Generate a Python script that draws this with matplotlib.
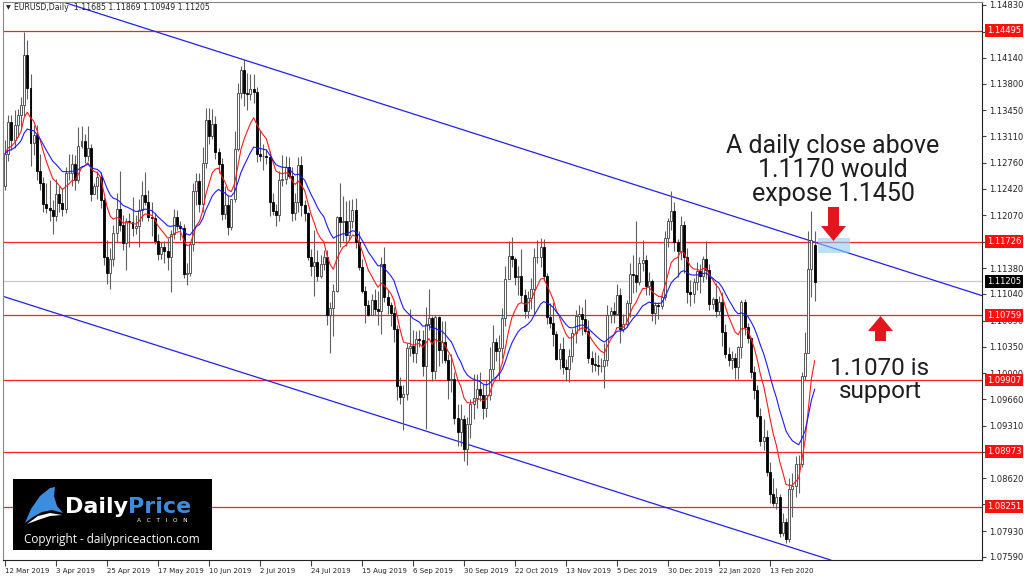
import numpy as np
import pandas as pd
import matplotlib.pyplot as plt
from matplotlib.patches import Polygon, Rectangle
from matplotlib.transforms import blended_transform_factory

# -----------------------------
# Data (prices in 1/10000)
# -----------------------------
opens = [
    11245, 11288, 11330, 11306, 11325, 11339, 11352, 11418, 11374, 11302, 11312, 11265, 11250, 11222, 11217, 11214,
    11206, 11235, 11223, 11216, 11262, 11263, 11274, 11254, 11298, 11305, 11285, 11295, 11235, 11245, 11258, 11227,
    11152, 11132, 11150, 11184, 11215, 11195, 11171, 11200, 11198, 11190, 11193, 11214, 11234, 11225, 11205, 11203,
    11174, 11157, 11165, 11160, 11152, 11183, 11205, 11193, 11190, 11130, 11131, 11169, 11239, 11252, 11222, 11276,
    11332, 11311, 11327, 11290, 11275, 11209, 11220, 11192, 11228, 11294, 11368, 11398, 11367, 11366, 11373, 11369,
    11287, 11285, 11285, 11283, 11225, 11213, 11208, 11253, 11255, 11270, 11259, 11210, 11224, 11273, 11220, 11210,
    11153, 11140, 11146, 11127, 11143, 11153, 11077, 11086, 11108, 11205, 11198, 11199, 11181, 11200, 11214, 11172,
    11139, 11108, 11090, 11077, 11096, 11084, 11081, 11143, 11100, 11089, 11079, 11058, 10983, 10969, 10973, 11033,
    11036, 11026, 11045, 11044, 11010, 11064, 11073, 11003, 11074, 11030, 11041, 11017, 10991, 10992, 10941, 10923,
    10940, 10900, 10933, 10960, 10967, 10979, 10971, 10955, 10972, 11006, 11041, 11029, 11033, 11073, 11124, 11154,
    11150, 11126, 11127, 11102, 11081, 11098, 11111, 11152, 11152, 11166, 11128, 11074, 11066, 11052, 11018, 11032,
    11008, 11006, 11022, 11053, 11075, 11078, 11071, 11056, 11020, 11012, 11011, 11009, 11009, 11017, 11077, 11082,
    11078, 11103, 11058, 11064, 11092, 11130, 11129, 11120, 11144, 11149, 11114, 11121, 11079, 11089, 11088, 11100,
    11177, 11199, 11213, 11172, 11160, 11195, 11152, 11106, 11104, 11120, 11134, 11127, 11150, 11136, 11091, 11097,
    11082, 11093, 11054, 11025, 11017, 11020, 11008, 11034, 11093, 11060, 11046, 11001, 10978, 10944, 10911, 10916,
    10871, 10841, 10830, 10837, 10791, 10805, 10782, 10848, 10852, 10881, 10881, 10996, 11026, 11137, 11168,
]
highs = [
    11306, 11339, 11339, 11345, 11346, 11362, 11448, 11437, 11392, 11325, 11326, 11288, 11258, 11250, 11254, 11227,
    11255, 11245, 11243, 11270, 11288, 11288, 11286, 11323, 11324, 11314, 11324, 11301, 11250, 11265, 11264, 11231,
    11175, 11164, 11195, 11237, 11265, 11207, 11204, 11210, 11231, 11207, 11228, 11252, 11264, 11240, 11225, 11210,
    11183, 11172, 11173, 11177, 11188, 11215, 11214, 11200, 11196, 11145, 11172, 11250, 11262, 11262, 11297, 11348,
    11348, 11346, 11337, 11296, 11282, 11245, 11234, 11229, 11318, 11381, 11403, 11412, 11394, 11392, 11393, 11375,
    11319, 11301, 11294, 11292, 11236, 11222, 11265, 11286, 11285, 11284, 11270, 11236, 11283, 11285, 11227, 11212,
    11163, 11188, 11162, 11155, 11162, 11162, 11094, 11117, 11206, 11250, 11232, 11226, 11227, 11229, 11230, 11187,
    11150, 11114, 11096, 11104, 11110, 11108, 11152, 11165, 11109, 11094, 11087, 11063, 10995, 10985, 11040, 11084,
    11057, 11056, 11057, 11057, 11087, 11110, 11075, 11076, 11075, 11069, 11069, 11025, 11025, 11001, 10960, 10960,
    10945, 10943, 10966, 10999, 10999, 11001, 10986, 10991, 11034, 11063, 11046, 11050, 11085, 11140, 11173, 11179,
    11153, 11140, 11163, 11110, 11108, 11125, 11164, 11175, 11178, 11176, 11132, 11092, 11093, 11055, 11040, 11047,
    11019, 11032, 11058, 11083, 11089, 11087, 11097, 11070, 11029, 11028, 11024, 11020, 11039, 11090, 11087, 11094,
    11117, 11112, 11078, 11096, 11145, 11155, 11200, 11152, 11175, 11155, 11133, 11124, 11094, 11093, 11103, 11187,
    11203, 11239, 11225, 11176, 11206, 11200, 11164, 11122, 11125, 11146, 11143, 11154, 11173, 11143, 11100, 11118,
    11101, 11107, 11064, 11034, 11029, 11026, 11036, 11096, 11097, 11066, 11048, 11010, 10984, 10954, 10940, 10925,
    10884, 10863, 10850, 10841, 10816, 10810, 10863, 10869, 10891, 10893, 11001, 11054, 11186, 11213, 11187,
]
lows = [
    11240, 11278, 11293, 11296, 11310, 11322, 11338, 11360, 11272, 11286, 11253, 11240, 11212, 11210, 11200, 11183,
    11200, 11212, 11206, 11210, 11254, 11246, 11240, 11250, 11295, 11276, 11278, 11226, 11235, 11228, 11217, 11142,
    11117, 11110, 11140, 11172, 11187, 11162, 11135, 11165, 11180, 11183, 11166, 11200, 11220, 11200, 11180, 11170,
    11148, 11150, 11145, 11136, 11107, 11176, 11188, 11175, 11125, 11116, 11128, 11160, 11221, 11211, 11212, 11269,
    11300, 11307, 11281, 11262, 11201, 11202, 11181, 11188, 11224, 11291, 11361, 11350, 11345, 11359, 11355, 11277,
    11278, 11266, 11275, 11206, 11207, 11193, 11200, 11245, 11248, 11256, 11200, 11201, 11212, 11206, 11200, 11149,
    11127, 11101, 11121, 11125, 11136, 11063, 11027, 11049, 11106, 11165, 11173, 11167, 11175, 11190, 11164, 11136,
    11105, 11066, 11075, 11076, 11077, 11063, 11051, 11093, 11078, 11062, 11041, 10965, 10960, 10926, 10965, 11023,
    11015, 11013, 11034, 10996, 10927, 11057, 10990, 10992, 11010, 11013, 11013, 10966, 10975, 10933, 10905, 10905,
    10885, 10879, 10915, 10940, 10954, 10964, 10940, 10943, 10965, 10995, 11016, 10991, 11020, 11062, 11124, 11139,
    11116, 11103, 11094, 11072, 11072, 11084, 11077, 11144, 11139, 11121, 11064, 11059, 11036, 11017, 11006, 10999,
    10990, 10989, 11015, 11040, 11057, 11050, 11053, 11014, 11001, 11003, 10997, 11002, 10981, 11010, 11066, 11066,
    11076, 11040, 11054, 11060, 11074, 11105, 11107, 11116, 11134, 11103, 11102, 11069, 11064, 11071, 11084, 11096,
    11166, 11188, 11160, 11126, 11148, 11132, 11092, 11088, 11092, 11109, 11105, 11119, 11124, 11083, 11084, 11074,
    11076, 11036, 11020, 11010, 11005, 10992, 10993, 11020, 11050, 11040, 10994, 10966, 10941, 10905, 10899, 10865,
    10830, 10826, 10822, 10785, 10786, 10777, 10779, 10812, 10838, 10843, 10877, 10991, 11026, 11100, 11095,
]
closes = [
    11288, 11330, 11306, 11325, 11339, 11352, 11418, 11374, 11302, 11312, 11265, 11250, 11222, 11217, 11214, 11206,
    11235, 11223, 11216, 11262, 11263, 11274, 11254, 11298, 11305, 11285, 11295, 11235, 11245, 11258, 11227, 11152,
    11132, 11150, 11184, 11215, 11195, 11171, 11200, 11198, 11190, 11193, 11214, 11234, 11225, 11205, 11203, 11174,
    11157, 11165, 11160, 11152, 11183, 11205, 11193, 11190, 11130, 11131, 11169, 11239, 11252, 11222, 11276, 11332,
    11311, 11327, 11290, 11275, 11209, 11220, 11192, 11228, 11294, 11368, 11398, 11367, 11366, 11373, 11369, 11287,
    11285, 11285, 11283, 11225, 11213, 11208, 11253, 11255, 11270, 11259, 11210, 11224, 11273, 11220, 11210, 11153,
    11140, 11146, 11127, 11143, 11153, 11077, 11086, 11108, 11205, 11198, 11199, 11181, 11200, 11214, 11172, 11139,
    11108, 11090, 11077, 11096, 11084, 11081, 11143, 11100, 11089, 11079, 11058, 10983, 10969, 10973, 11033, 11036,
    11026, 11045, 11044, 11010, 11064, 11073, 11003, 11074, 11030, 11041, 11017, 10991, 10992, 10941, 10923, 10940,
    10900, 10933, 10960, 10967, 10979, 10971, 10955, 10972, 11006, 11041, 11029, 11033, 11073, 11124, 11154, 11150,
    11126, 11127, 11102, 11081, 11098, 11111, 11152, 11152, 11166, 11128, 11074, 11066, 11052, 11018, 11032, 11008,
    11006, 11022, 11053, 11075, 11078, 11071, 11056, 11020, 11012, 11011, 11009, 11009, 11017, 11077, 11082, 11078,
    11103, 11058, 11064, 11092, 11130, 11129, 11120, 11144, 11149, 11114, 11121, 11079, 11089, 11088, 11100, 11177,
    11199, 11213, 11172, 11160, 11195, 11152, 11106, 11104, 11120, 11134, 11127, 11150, 11136, 11091, 11097, 11082,
    11093, 11054, 11025, 11017, 11020, 11008, 11034, 11093, 11060, 11046, 11001, 10978, 10944, 10911, 10916, 10871,
    10841, 10830, 10837, 10791, 10805, 10782, 10848, 10852, 10881, 10881, 10996, 11026, 11137, 11175, 11120,
]

date_labels = ["12 Mar 2019", "3 Apr 2019", "25 Apr 2019", "17 May 2019", "10 Jun 2019",
               "2 Jul 2019", "24 Jul 2019", "15 Aug 2019", "6 Sep 2019", "30 Sep 2019",
               "22 Oct 2019", "13 Nov 2019", "5 Dec 2019", "30 Dec 2019", "22 Jan 2020",
               "13 Feb 2020"]
date_label_bars = [0, 16, 32, 48, 64, 80, 96, 112, 128, 144, 160, 176, 192, 208, 224, 240]

price_ticks = [1.14830, 1.14480, 1.14140, 1.13800, 1.13450, 1.13110, 1.12760, 1.12420,
               1.12070, 1.11720, 1.11380, 1.11040, 1.10690, 1.10350, 1.10000, 1.09660,
               1.09310, 1.08970, 1.08620, 1.08280, 1.07930, 1.07590]
# ticks whose label sits fully under a level box
covered_ticks = [1.14480, 1.11720, 1.08970, 1.08280]

levels = [1.14495, 1.11726, 1.10759, 1.09907, 1.08973, 1.08251]
bid = 1.11205

# channel trendline anchors (bar, price)
upper_line = [(75, 1.1411), (209, 1.1232)]
lower_line = [(0, 1.1100), (250, 1.0767)]

# -----------------------------
# Prepare
# -----------------------------
o = np.array(opens) / 10000
h = np.array(highs) / 10000
l = np.array(lows) / 10000
c = np.array(closes) / 10000
idx = np.arange(len(c))

ema_fast = pd.Series(c).ewm(span=10, adjust=False).mean()
ema_slow = pd.Series(c).ewm(span=21, adjust=False).mean()

W, H = 1024, 578
fig = plt.figure(figsize=(W / 100, H / 100), dpi=100)
ax = fig.add_axes([3 / W, 18 / H, 979 / W, 558 / H])
ax.set_xlim(-0.63, 306.5)
ax.set_ylim(1.07550, 1.14869)

# horizontal levels
for lv in levels:
    ax.axhline(lv, color="#ff2020", lw=0.9, zorder=1)
ax.axhline(bid, color="#c8c8c8", lw=0.9, zorder=1)

# channel
ax.axline(upper_line[0], upper_line[1], color="#2020ee", lw=0.9, zorder=1.5)
ax.axline(lower_line[0], lower_line[1], color="#2020ee", lw=0.9, zorder=1.5)

# candles
up = c >= o
ax.vlines(idx, l, h, color="#606060", lw=0.8, zorder=2)
body_lo = np.minimum(o, c)
body_h = np.maximum(np.abs(c - o), 0.00004)
ax.bar(idx[up], body_h[up], bottom=body_lo[up], width=0.62, color="white",
       edgecolor="#404040", linewidth=0.6, zorder=3)
ax.bar(idx[~up], body_h[~up], bottom=body_lo[~up], width=0.62, color="black",
       edgecolor="black", linewidth=0.6, zorder=3)

# moving averages
ax.plot(idx, ema_fast, color="#ff1a1a", lw=0.8, zorder=4)
ax.plot(idx, ema_slow, color="#1a1aff", lw=0.8, zorder=4)

# axes styling
for side in ["left", "top"]:
    ax.spines[side].set_color("#888888")
for side in ["right", "bottom"]:
    ax.spines[side].set_color("#222222")
for sp in ax.spines.values():
    sp.set_linewidth(0.8)

ax.set_xticks(date_label_bars)
ax.set_xticklabels(date_labels, ha="left", fontsize=5.0, color="#222222")
ax.tick_params(axis="x", direction="out", length=4, pad=2, color="#444444")

ax.yaxis.tick_right()
ax.set_yticks(price_ticks)
ax.set_yticklabels(["" if v in covered_ticks else f"{v:.5f}" for v in price_ticks],
                   fontsize=6, color="#222222")
ax.tick_params(axis="y", direction="out", length=3, pad=2, color="#444444")

# highlighted price labels
tr = blended_transform_factory(ax.transAxes, ax.transData)
lx = (987 - 3) / 979
for lv in levels:
    ax.text(lx, lv, f"{lv:.5f}", transform=tr, fontsize=6, color="white", va="center",
            ha="left", clip_on=False, zorder=10,
            bbox=dict(facecolor="#ff1010", edgecolor="none", pad=1.2))
ax.text(lx, bid, f"{bid:.5f}", transform=tr, fontsize=6, color="white", va="center",
        ha="left", clip_on=False, zorder=10,
        bbox=dict(facecolor="black", edgecolor="none", pad=1.2))

# -----------------------------
# Overlay (pixel coordinates) for annotations
# -----------------------------
ov = fig.add_axes([0, 0, 1, 1], zorder=5)
ov.set_xlim(0, W)
ov.set_ylim(H, 0)
ov.axis("off")
ov.patch.set_alpha(0)

ov.text(6, 8, "\u25bc", fontsize=4.5, color="#222222", va="center", ha="left")
ov.text(14, 8, "EURUSD,Daily  1.11685 1.11869 1.10949 1.11205", fontsize=5.6,
        color="#222222", va="center", ha="left")

# highlight box on the breakout zone
ov.add_patch(Rectangle((818, 238), 32, 15, facecolor="#8fcdf5", edgecolor="none", alpha=0.6))

# arrows
red = "#e3161f"
ov.add_patch(Polygon([(828, 207), (839, 207), (839, 226), (846, 226), (833.5, 241),
                      (821, 226), (828, 226)], closed=True, facecolor=red, edgecolor="none"))
ov.add_patch(Polygon([(875, 341), (886, 341), (886, 331), (893, 331), (880.5, 316),
                      (868, 331), (875, 331)], closed=True, facecolor=red, edgecolor="none"))

ov.text(833, 170, "A daily close above\n1.1170 would\nexpose 1.1450", fontsize=18,
        family="Roboto", color="#1e1e1e", ha="center", va="center", linespacing=1.0)
ov.text(880, 380, "1.1070 is\nsupport", fontsize=17.5, family="Roboto", color="#1e1e1e",
        ha="center", va="center", linespacing=1.0)

# logo
ov.add_patch(Rectangle((13, 479), 199, 71, facecolor="black", edgecolor="none"))
ov.add_patch(Polygon([(25, 523), (31, 509), (40, 496), (50, 488), (55, 487), (54, 496),
                      (57, 506), (63, 513), (52, 510), (42, 512), (33, 517)],
                     closed=True, facecolor="#3b8de0", edgecolor="none"))
ov.add_patch(Polygon([(27, 524), (38, 516), (50, 513), (62, 515), (50, 516), (38, 520)],
                     closed=True, facecolor="white", edgecolor="none"))
ov.text(65, 507, "Daily", fontsize=16, fontweight="bold", color="white", va="center", ha="left")
ov.text(128, 507, "Price", fontsize=16, fontweight="bold", color="#3b8de0", va="center", ha="left")
ov.text(162, 521, "A   C   T   I   O   N", fontsize=4.2, color="white", va="center", ha="center")
ov.text(112, 539, "Copyright - dailypriceaction.com", fontsize=8.5, family="Open Sans",
        color="white", va="center", ha="center")

fig.savefig("out.png", dpi=100, facecolor="white")
